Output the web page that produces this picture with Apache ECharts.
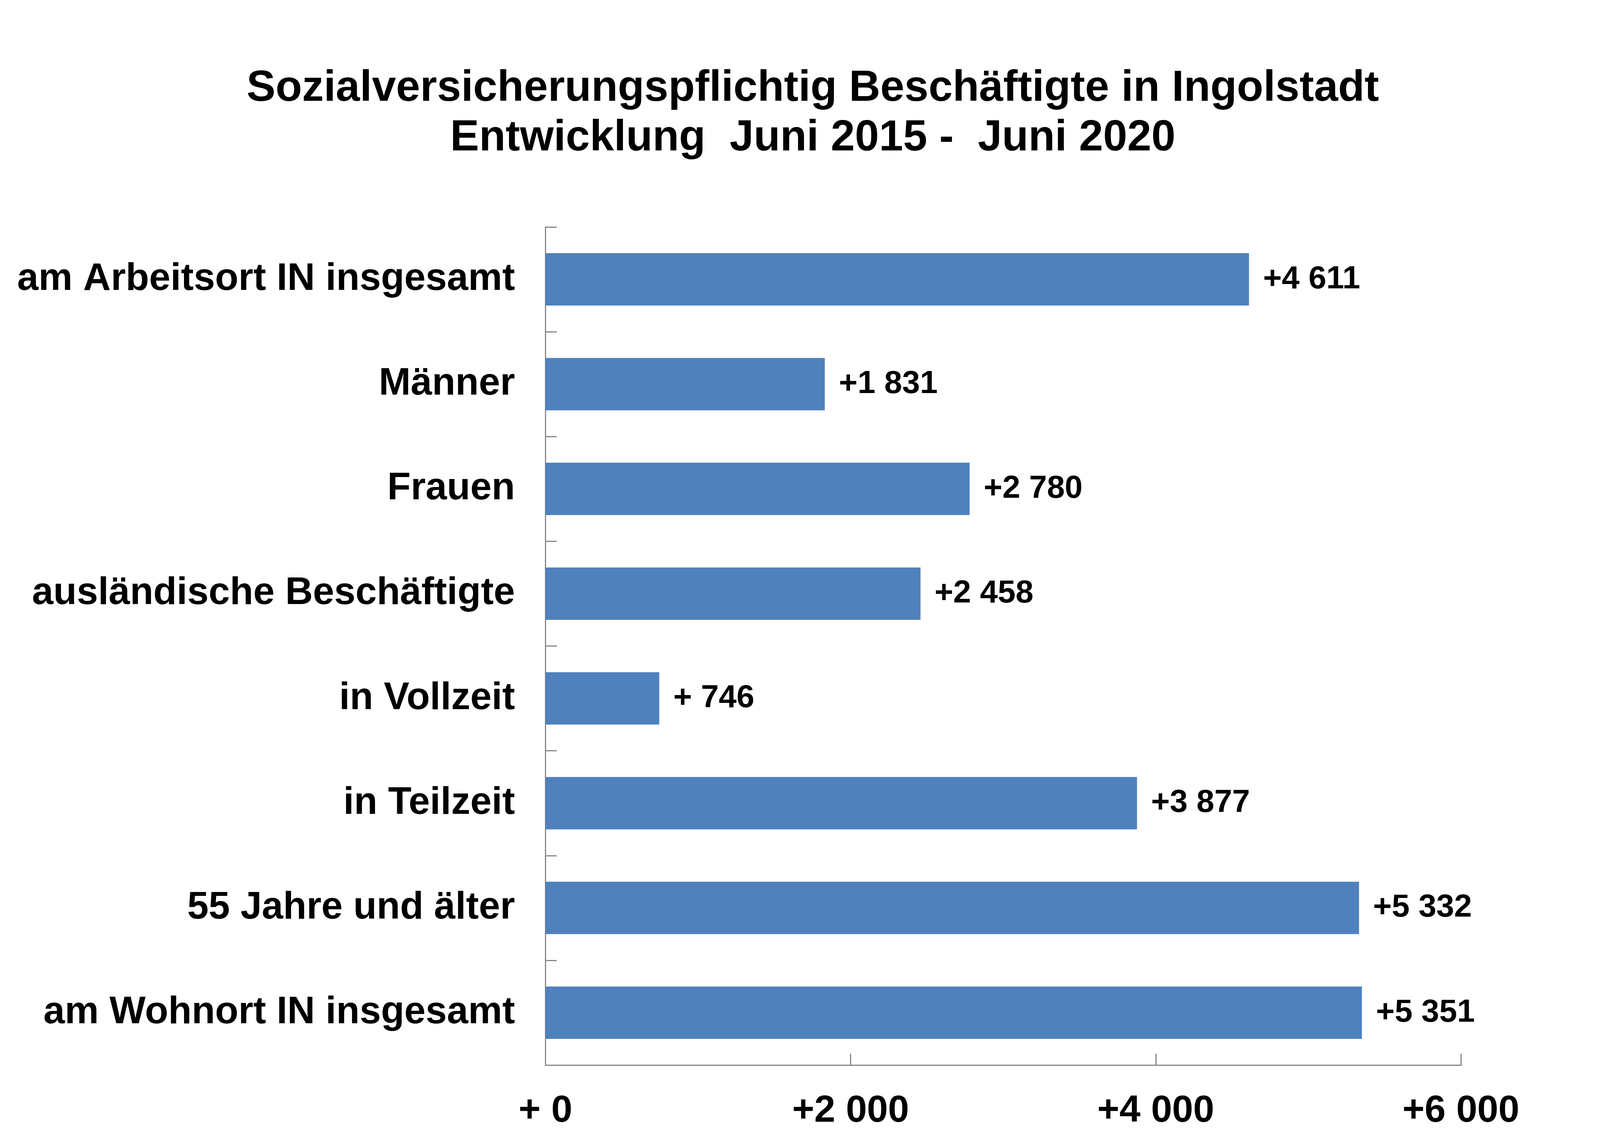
<!DOCTYPE html>
<html style="height:100%">
<head>
    <meta charset="UTF-8">
    <title>Sozialversicherungspflichtig Beschäftigte in Ingolstadt</title>
    <script src="https://cdn.jsdelivr.net/npm/echarts@6/dist/echarts.min.js"></script>
</head>
<body style="height:100%;margin:0">
    <div id="main" style="width:100%;height:100%"></div>
    <script>
        // Werte aus dem Diagramm
        var categories = [
            'am Arbeitsort IN insgesamt',
            'Männer',
            'Frauen',
            'ausländische Beschäftigte',
            'in Vollzeit',
            'in Teilzeit',
            '55 Jahre und älter',
            'am Wohnort IN insgesamt'
        ];
        var changes = [4611, 1831, 2780, 2458, 746, 3877, 5332, 5351];
        var axisTicks = [0, 2000, 4000, 6000];

        // Excel-Format "+# ##0"
        function fmt(v) {
            v = Math.round(v);
            if (v < 1000) return '+ ' + v;
            var rest = String(v % 1000);
            while (rest.length < 3) rest = '0' + rest;
            return '+' + Math.floor(v / 1000) + ' ' + rest;
        }

        var font = '"Liberation Sans", Arial, sans-serif';
        var gray = '#868686';

        var chart = echarts.init(document.getElementById('main'), null, { renderer: 'canvas' });

        var option = {
            backgroundColor: '#ffffff',
            animation: false,
            title: {
                text: 'Sozialversicherungspflichtig Beschäftigte in Ingolstadt\nEntwicklung  Juni 2015 -  Juni 2020',
                left: '50.8%',
                top: 164,
                padding: 0,
                textAlign: 'center',
                textStyle: {
                    fontFamily: font,
                    fontSize: 111,
                    fontWeight: 'bold',
                    color: '#000',
                    lineHeight: 127
                }
            },
            // Ränder relativ zur Breite, damit die Proportionen bei jeder Fensterbreite stimmen
            grid: {
                left: '34.09%',
                right: '8.69%',
                top: 581,
                bottom: 179,
                containLabel: false,
                outerBoundsMode: 'none'
            },
            xAxis: {
                type: 'value',
                min: axisTicks[0],
                max: axisTicks[axisTicks.length - 1],
                interval: 2000,
                splitLine: { show: false },
                axisLine: { show: true, lineStyle: { color: gray, width: 3 } },
                axisTick: { show: true, inside: true, length: 29, lineStyle: { color: gray, width: 3 } },
                axisLabel: {
                    margin: 70,
                    fontFamily: font,
                    fontSize: 97,
                    fontWeight: 'bold',
                    color: '#000',
                    formatter: fmt
                }
            },
            yAxis: {
                type: 'category',
                data: categories,
                inverse: true,
                axisLine: { show: true, lineStyle: { color: gray, width: 3 } },
                axisTick: { show: true, inside: true, length: 29, lineStyle: { color: gray, width: 3 } },
                axisLabel: {
                    margin: 78,
                    fontFamily: font,
                    fontSize: 98,
                    fontWeight: 'bold',
                    color: '#000'
                }
            },
            series: [{
                type: 'bar',
                data: changes,
                barWidth: '50%',
                itemStyle: { color: '#4F81BD' },
                label: {
                    show: true,
                    position: 'right',
                    distance: 36,
                    fontFamily: font,
                    fontSize: 82,
                    fontWeight: 'bold',
                    color: '#000',
                    formatter: function (p) { return fmt(p.value); }
                }
            }]
        };

        chart.setOption(option);
        window.addEventListener('resize', function () {
            chart.resize();
        });
    </script>
</body>
</html>
